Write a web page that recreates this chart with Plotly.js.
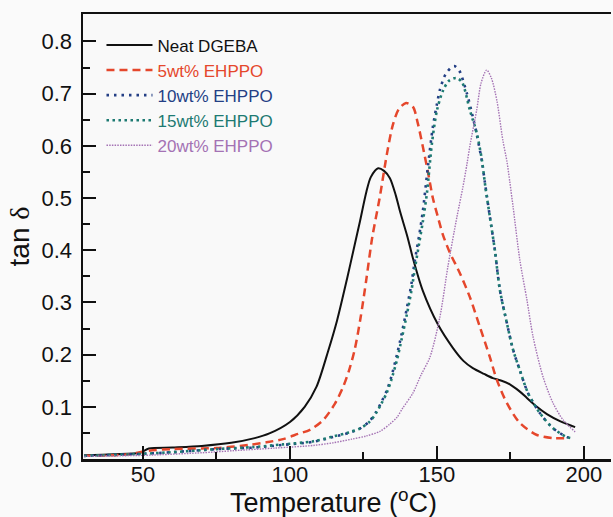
<!DOCTYPE html>
<html>
<head>
<meta charset="utf-8">
<script src="https://cdn.plot.ly/plotly-3.0.1.min.js"></script>
<style>html,body{margin:0;padding:0;background:#fafafa;}</style>
</head>
<body>
<div id="chart" style="width:613px;height:517px;"></div>
<script>
// Temperature (°C) and tan δ values
const neatT = [30,40,49,52,60,70,80,88,93,100,105,109,113,116,119.4,122,123.8,126,127.5,130,132,134,136,137.4,140,141.8,145.2,150.3,155.4,159,162.2,166,169,172,174.8,178,180.6,184,187.4,192,197];
const neatY = [0.007,0.009,0.012,0.020,0.022,0.025,0.031,0.040,0.049,0.071,0.100,0.138,0.207,0.265,0.345,0.410,0.455,0.512,0.540,0.557,0.552,0.538,0.505,0.475,0.425,0.385,0.322,0.258,0.213,0.188,0.174,0.163,0.155,0.150,0.143,0.130,0.117,0.100,0.086,0.072,0.061];

const w5T = [30,45,52,60,75,86,92,97.6,102.7,106.8,111.2,115.2,118,120,122,124,126,128,130.5,133,135,137,139.5,141.8,143.5,145.2,147,148.6,150.3,152,154.4,157.8,161.2,164.6,168,170.4,173.8,178.2,184,189.5,194.6];
const w5Y = [0.006,0.009,0.016,0.019,0.021,0.027,0.032,0.038,0.048,0.056,0.074,0.105,0.137,0.168,0.209,0.270,0.345,0.425,0.500,0.585,0.640,0.670,0.682,0.675,0.643,0.598,0.548,0.500,0.464,0.430,0.395,0.356,0.310,0.253,0.195,0.151,0.107,0.069,0.046,0.040,0.040];

const w10T = [30,50,60,75,88,97.6,108,114.6,120,123.7,127,129.3,131,133,134.5,136.4,138,139.8,141.3,142.5,144,145.2,146.9,148.6,150,151,153,155.8,157.5,160.2,162,163.6,165.3,166.3,168,169.7,171.4,173.8,175.9,178.2,181,185,189.5,194.2,195.5];
const w10Y = [0.006,0.010,0.013,0.019,0.022,0.027,0.033,0.042,0.050,0.058,0.072,0.090,0.108,0.132,0.158,0.200,0.240,0.290,0.335,0.381,0.430,0.475,0.559,0.636,0.680,0.707,0.738,0.753,0.745,0.700,0.660,0.620,0.570,0.530,0.464,0.400,0.324,0.260,0.209,0.170,0.126,0.088,0.059,0.042,0.040];

const w15T = [30,50,60,75,88,97.6,108,114.6,120,123.7,127,129.3,131,133,134.5,136.4,138,139.8,141.3,142.5,144,145.2,146.6,148.3,150,152,154,156.5,158.5,161.2,163.6,165.3,166.5,168,169.7,171.4,173.8,175.9,178.2,181,185,189.5,194.2,195.5];
const w15Y = [0.006,0.010,0.013,0.019,0.023,0.028,0.034,0.043,0.051,0.058,0.071,0.088,0.105,0.128,0.152,0.190,0.230,0.278,0.322,0.365,0.415,0.455,0.510,0.605,0.668,0.705,0.724,0.730,0.722,0.668,0.623,0.572,0.520,0.464,0.400,0.324,0.260,0.209,0.170,0.126,0.088,0.059,0.042,0.040];

const w20T = [30,50,55,70,81,95,108,114.6,121,125.9,130.6,134,136.4,138.4,141.8,144.5,147.6,151,153.7,156.8,158.8,160.2,161.2,163.5,165,166.9,168.5,170.4,172.4,173.8,174.8,175.9,178.2,180.6,182.7,186.1,189.5,192.9,197];
const w20Y = [0.005,0.007,0.008,0.012,0.016,0.021,0.026,0.031,0.038,0.044,0.053,0.067,0.080,0.098,0.126,0.160,0.195,0.272,0.368,0.464,0.520,0.565,0.600,0.668,0.720,0.745,0.730,0.686,0.611,0.570,0.530,0.483,0.381,0.305,0.234,0.157,0.107,0.075,0.052];

const names = ['Neat DGEBA','5wt% EHPPO','10wt% EHPPO','15wt% EHPPO','20wt% EHPPO'];
const colors = ['#111111','#e5472c','#243f85','#1d7a72','#a472b4'];
const xTickVals = [50,100,150,200];
const yTickVals = [0,0.1,0.2,0.3,0.4,0.5,0.6,0.7,0.8];

const series = [[neatT,neatY],[w5T,w5Y],[w10T,w10Y],[w15T,w15Y],[w20T,w20Y]];
const dashes = ['solid','8px,5px','2.5px,5px','2.5px,3.5px','1.5px,1.2px'];
const widths = [2,2.5,2.6,2.6,1.4];

const traces = series.map((s,i)=>({
  x: s[0], y: s[1], type:'scatter', mode:'lines',
  name: '<span style="color:'+colors[i]+'">'+names[i]+'</span>',
  line:{color:colors[i], width:widths[i], dash:dashes[i], shape:'spline', smoothing:0.8}
}));

const layout = {
  width:613, height:517,
  margin:{l:83, r:2, t:14, b:58},
  paper_bgcolor:'#fafafa', plot_bgcolor:'#f9f9f9',
  font:{family:'Liberation Sans, Arial, sans-serif', color:'#111'},
  showlegend:true,
  legend:{x:0.035, y:0.97, xanchor:'left', yanchor:'top', bgcolor:'rgba(0,0,0,0)',
          font:{size:17}, itemwidth:46, tracegroupgap:0},
  xaxis:{range:[29.6,209.2], tickvals:xTickVals, ticks:'inside', ticklen:13, tickwidth:2, tickcolor:'#111',
         showline:true, linecolor:'#111', linewidth:2.5, mirror:true, showgrid:false, zeroline:false,
         tickfont:{size:22}, ticklabelstandoff:-6,
         minor:{tickvals:[75,125,175], ticks:'inside', ticklen:7, tickwidth:2, tickcolor:'#111', showgrid:false}},
  yaxis:{range:[0,0.8525], tickvals:yTickVals, tickformat:'.1f', ticks:'inside', ticklen:13, tickwidth:2, tickcolor:'#111',
         showline:true, linecolor:'#111', linewidth:2.5, mirror:false, showgrid:false, zeroline:false,
         tickfont:{size:22}, ticklabelstandoff:4,
         minor:{tickvals:[0.05,0.15,0.25,0.35,0.45,0.55,0.65,0.75], ticks:'inside', ticklen:7, tickwidth:2, tickcolor:'#111', showgrid:false},
         title:{text:'tan <span style="font-family:Liberation Serif, serif">δ</span>', font:{size:28}, standoff:4}},
  annotations:[{
    text:'Temperature (<sup>o</sup>C)', xref:'paper', yref:'paper', x:0.4735, y:-0.0944,
    xanchor:'center', yanchor:'middle', showarrow:false, font:{size:27}
  }]
};

Plotly.newPlot('chart', traces, layout, {displayModeBar:false, staticPlot:true});
</script>
</body>
</html>
